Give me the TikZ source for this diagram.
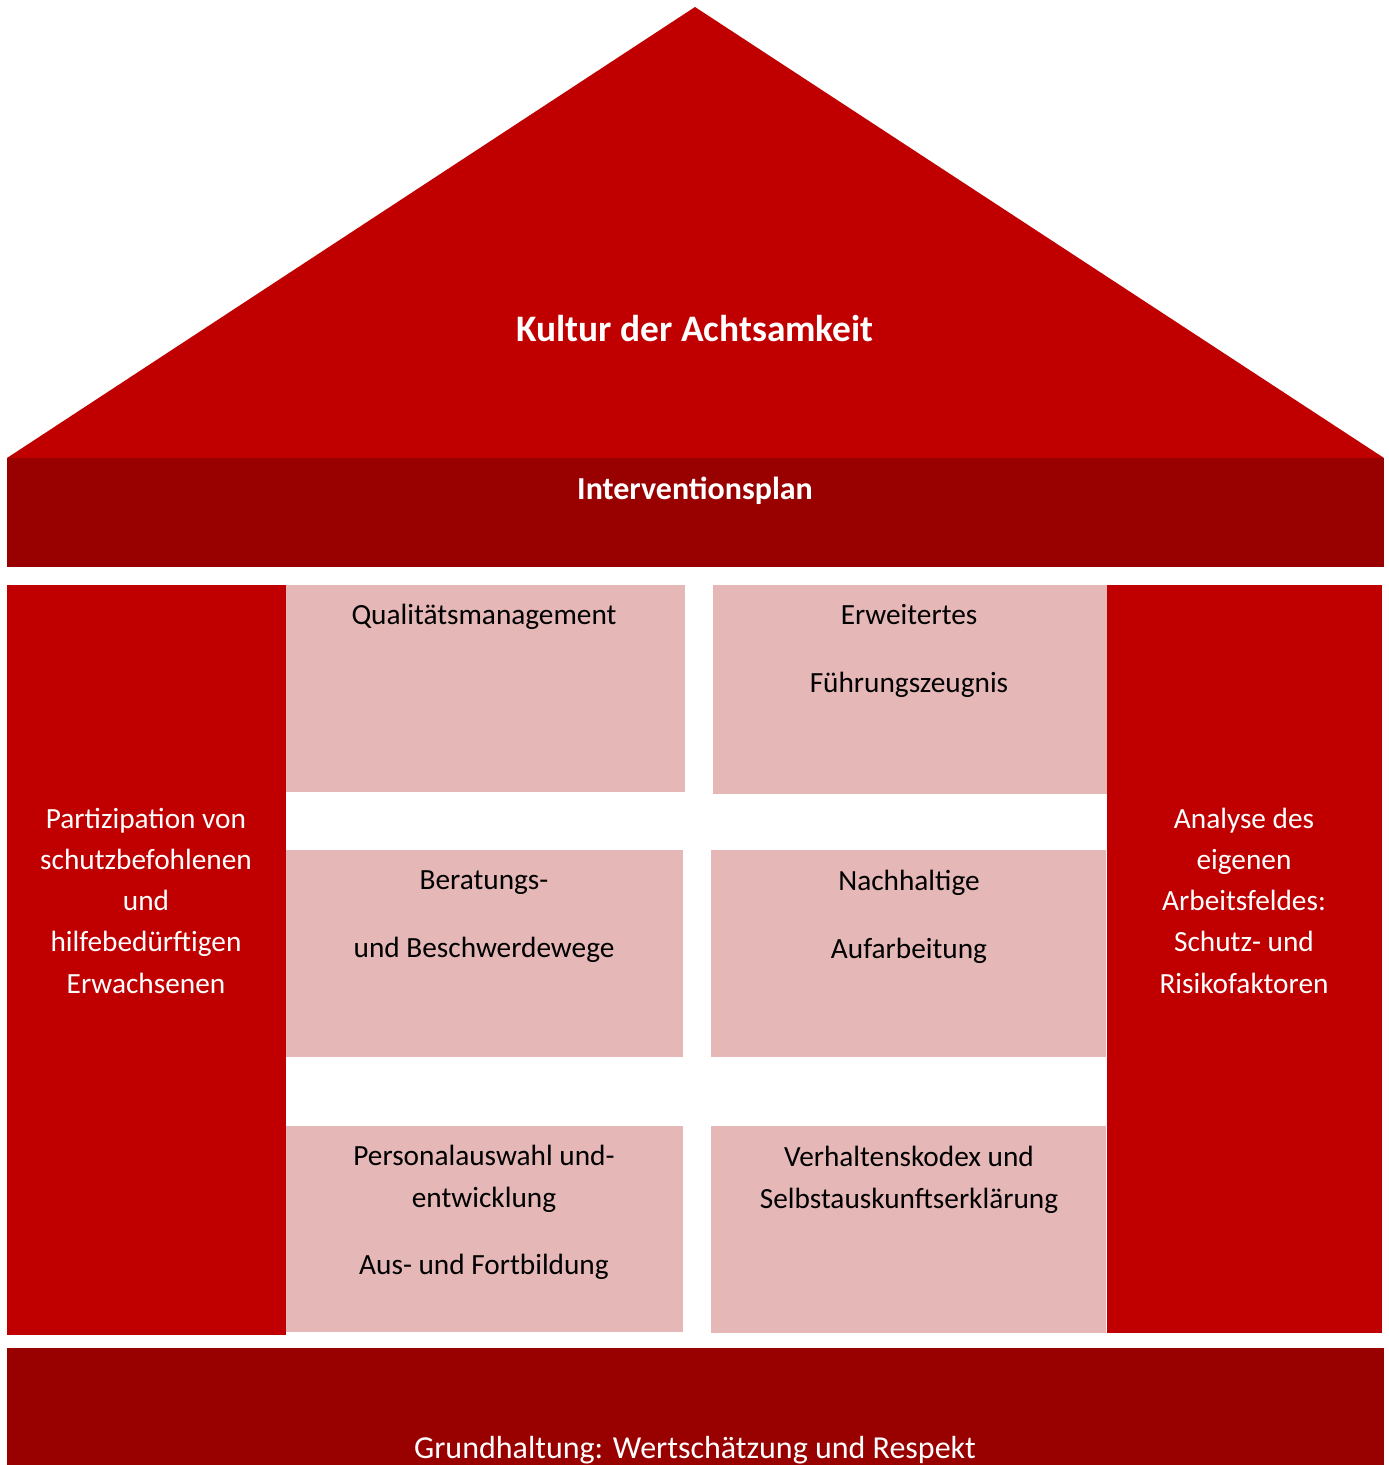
\documentclass[tikz,border=0pt]{standalone}
\usepackage{fontspec}
\setmainfont{Carlito}
\definecolor{darkred}{HTML}{990000}
\definecolor{mainred}{HTML}{C00000}
\definecolor{pinkbox}{HTML}{E5B7B7}
\begin{document}
\begin{tikzpicture}[x=1pt,y=-1pt,
  body/.style={anchor=base,inner sep=0pt,font=\fontsize{29.3}{41}\selectfont},
  wtxt/.style={body,text=white},
  btxt/.style={body,text=black},
  boldtxt/.style={anchor=base,inner sep=0pt,text=white,font=\fontsize{32}{38}\selectfont\bfseries},
]
\useasboundingbox (0,0) rectangle (1389,1465);
\fill[white] (0,0) rectangle (1389,1465);
% roof
\fill[mainred] (695,7) -- (1384,458) -- (7,458) -- cycle;
\node[boldtxt,font=\fontsize{37.4}{44}\selectfont\bfseries] (roof) at (695,341) {Kultur der Achtsamkeit};
% interventionsplan band
\fill[darkred] (7,458) rectangle (1384,567);
\node[boldtxt] (ip) at (695,499) {Interventionsplan};
% pillars
\fill[mainred] (7,585) rectangle (286,1335);
\fill[mainred] (1107,585) rectangle (1382,1333);
\node[wtxt] (l1) at (146,828) {Partizipation von};
\node[wtxt] (l2) at (146,869) {schutzbefohlenen};
\node[wtxt] (l3) at (146,910) {und};
\node[wtxt] (l4) at (146,951) {hilfebedürftigen};
\node[wtxt] (l5) at (146,993) {Erwachsenen};
\node[wtxt] (r1) at (1244,828) {Analyse des};
\node[wtxt] (r2) at (1244,869) {eigenen};
\node[wtxt] (r3) at (1244,910) {Arbeitsfeldes:};
\node[wtxt] (r4) at (1244,951) {Schutz- und};
\node[wtxt] (r5) at (1244,993) {Risikofaktoren};
% pink boxes
\fill[pinkbox] (286,585) rectangle (685,792);
\fill[pinkbox] (713,585) rectangle (1107,794);
\fill[pinkbox] (286,850) rectangle (683,1057);
\fill[pinkbox] (711,850) rectangle (1106,1057);
\fill[pinkbox] (286,1126) rectangle (683,1332);
\fill[pinkbox] (711,1126) rectangle (1106,1333);
\node[btxt] (b1) at (484,624) {Qualitätsmanagement};
\node[btxt] (b2a) at (909,624) {Erweitertes};
\node[btxt] (b2b) at (909,692) {Führungszeugnis};
\node[btxt] (b3a) at (484,889) {Beratungs-};
\node[btxt] (b3b) at (484,957) {und Beschwerdewege};
\node[btxt] (b4a) at (909,890) {Nachhaltige};
\node[btxt] (b4b) at (909,958) {Aufarbeitung};
\node[btxt] (b5a) at (484,1165) {Personalauswahl und-};
\node[btxt] (b5b) at (484,1207) {entwicklung};
\node[btxt] (b5c) at (484,1274) {Aus- und Fortbildung};
\node[btxt] (b6a) at (909,1166) {Verhaltenskodex und};
\node[btxt] (b6b) at (909,1208) {Selbstauskunftserklärung};
% foundation
\fill[darkred] (7,1348) rectangle (1384,1465);
\node[wtxt,font=\fontsize{32}{40}\selectfont] (base) at (695,1458) {Grundhaltung: Wertschätzung und Respekt};
\end{tikzpicture}
\end{document}
